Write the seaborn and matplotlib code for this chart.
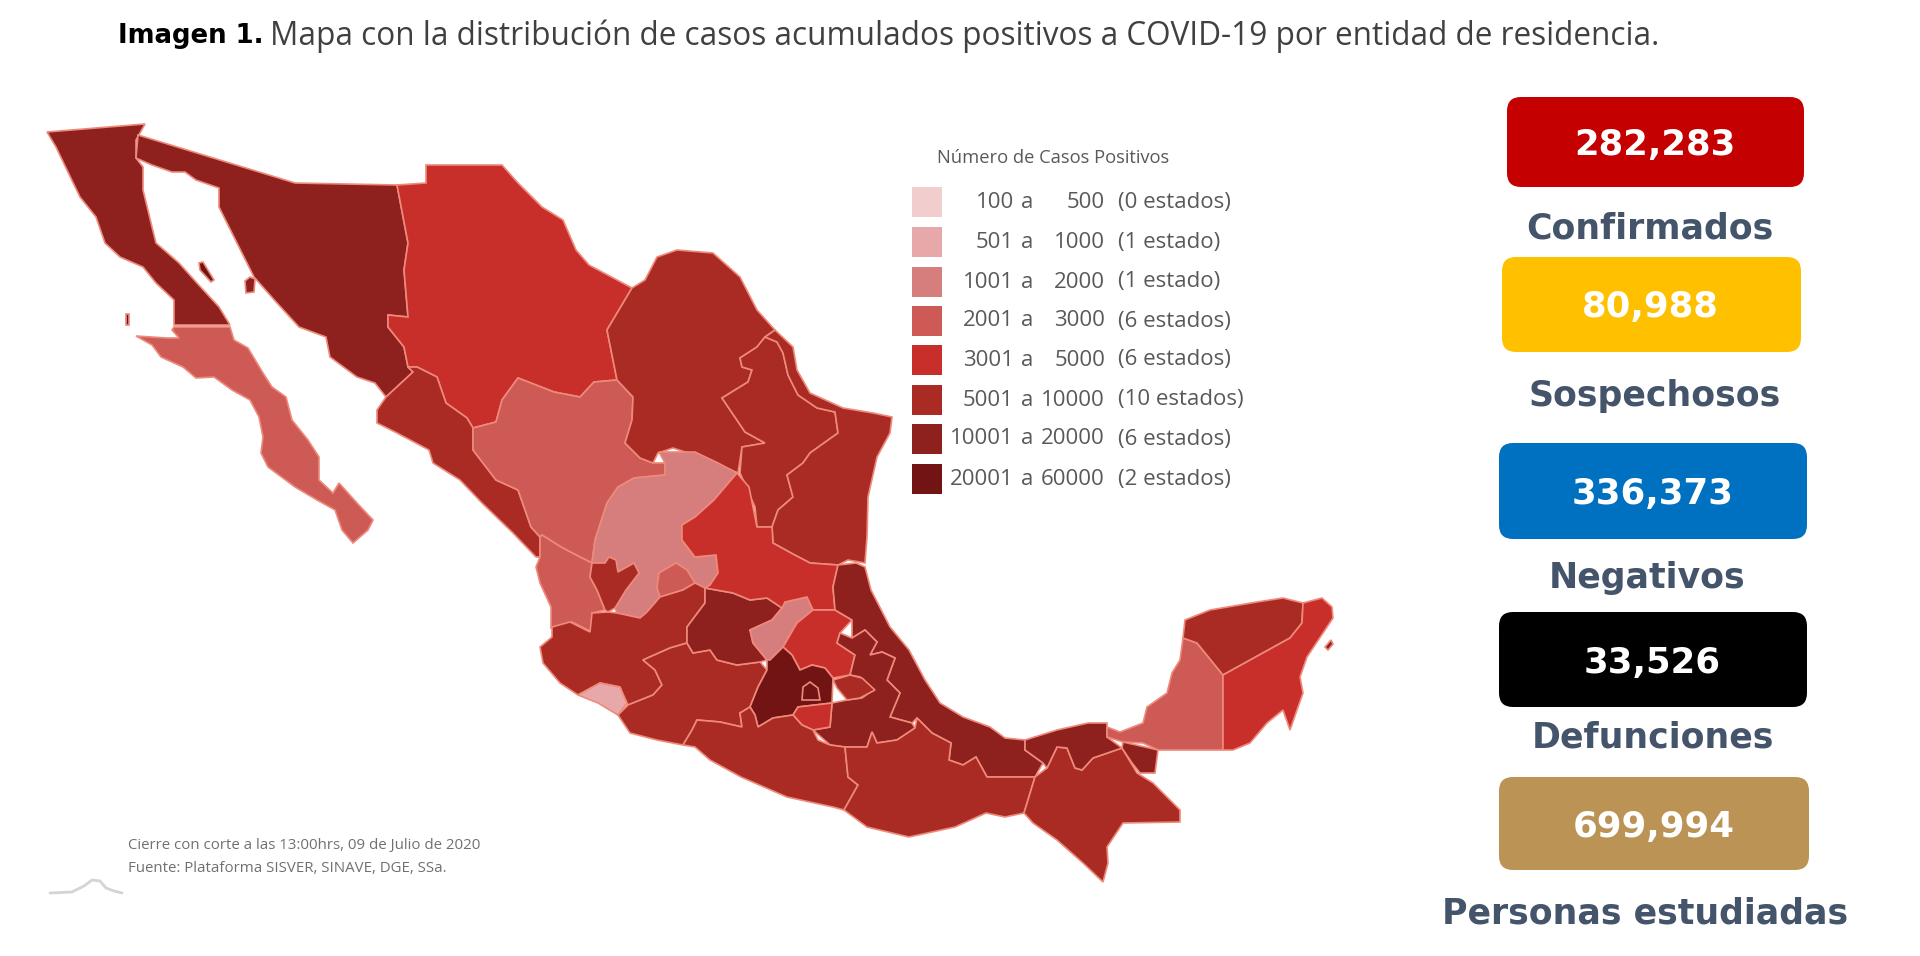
import matplotlib
matplotlib.use("Agg")
import matplotlib.pyplot as plt
from matplotlib.patches import FancyBboxPatch
import pandas as pd
import seaborn as sns

# legend classes, lightest to darkest
class_low = ["100", "501", "1001", "2001", "3001", "5001", "10001", "20001"]
class_high = ["500", "1000", "2000", "3000", "5000", "10000", "20000", "60000"]
class_count = ["(0 estados)", "(1 estado)", "(1 estado)", "(6 estados)",
               "(6 estados)", "(10 estados)", "(6 estados)", "(2 estados)"]
class_colors = ["#f2cdcd", "#e6a8a8", "#d67e7e", "#ce5a55",
                "#c92f2a", "#aa2b23", "#8e201d", "#721414"]

# headline numbers
card_values = ["282,283", "80,988", "336,373", "33,526", "699,994"]
card_labels = ["Confirmados", "Sospechosos", "Negativos", "Defunciones", "Personas estudiadas"]
card_colors = ["#c40000", "#ffc000", "#0070c0", "#000000", "#bb9355"]

# state outlines, in image units
baja_california = [(47,132),(145,124),(136,140),(136,158),(143,167),(143,190),(152,227),(156,243),(179,263),(196,282),(219,307),(230,325),(174,325),(174,300),(156,283),(143,267),(120,257),(105,243),(96,217),(80,197),(67,170),(56,147)]
baja_california_sur = [(174,327),(230,327),(234,340),(248,348),(263,373),(272,387),(286,397),(292,420),(308,440),(319,457),(319,480),(333,493),(339,483),(357,503),(373,520),(368,530),(353,543),(342,530),(335,510),(317,500),(295,487),(268,467),(261,453),(263,437),(259,417),(250,400),(232,390),(214,377),(196,378),(183,367),(161,357),(152,345),(136,336),(167,338),(179,338),(172,330)]
sonora = [(138,135),(295,183),(397,185),(408,243),(404,270),(408,317),(388,315),(388,327),(404,347),(408,367),(413,372),(386,397),(375,383),(357,377),(330,357),(326,337),(299,327),(277,303),(254,277),(237,243),(219,207),(219,188),(196,180),(185,172),(172,172),(152,165),(136,158)]
chihuahua = [(426,165),(502,165),(518,183),(542,207),(563,220),(576,250),(589,265),(632,288),(607,330),(617,380),(594,382),(580,397),(554,392),(518,378),(502,400),(496,422),(473,428),(467,418),(446,403),(437,377),(417,367),(408,367),(404,347),(388,327),(388,315),(408,317),(404,270),(408,243),(397,185),(426,183)]
sinaloa = [(413,372),(408,367),(417,367),(437,377),(446,403),(467,418),(473,428),(473,450),(496,480),(518,490),(531,527),(540,537),(540,557),(536,557),(513,533),(482,503),(460,480),(433,463),(429,450),(397,433),(377,423),(377,410),(386,397)]
durango = [(473,428),(496,422),(502,400),(518,378),(554,392),(580,397),(594,382),(617,380),(633,397),(632,420),(625,443),(640,458),(653,463),(665,463),(665,475),(634,478),(618,487),(607,503),(595,540),(592,563),(576,555),(561,547),(542,535),(540,537),(531,527),(518,490),(496,480),(473,450)]
coahuila = [(632,288),(645,280),(657,257),(677,250),(713,253),(740,277),(757,310),(775,330),(765,337),(757,347),(740,358),(742,367),(752,370),(748,382),(722,398),(745,432),(765,443),(742,447),(738,473),(700,457),(673,448),(658,453),(653,463),(640,458),(625,443),(632,420),(633,397),(617,380),(607,330)]
nuevo_leon = [(765,337),(777,342),(783,353),(788,375),(798,395),(817,408),(835,412),(838,433),(810,453),(803,463),(787,475),(793,497),(778,510),(772,527),(757,527),(755,507),(740,473),(742,447),(765,443),(745,432),(722,398),(748,382),(752,370),(742,367),(740,358),(757,347)]
tamaulipas = [(775,330),(793,347),(797,370),(810,393),(843,408),(873,413),(892,417),(890,433),(877,457),(868,497),(867,537),(865,563),(848,560),(838,565),(810,563),(791,553),(773,543),(772,527),(778,510),(793,497),(787,475),(803,463),(810,453),(838,433),(835,412),(817,408),(798,395),(788,375),(783,353),(777,342),(765,337)]
zacatecas = [(659,452),(695,452),(718,463),(737,473),(714,500),(695,517),(682,525),(682,540),(695,557),(716,555),(718,573),(710,585),(705,588),(695,583),(687,570),(676,563),(659,573),(657,588),(660,597),(647,612),(640,618),(617,613),(615,608),(626,590),(639,573),(634,563),(618,572),(616,560),(609,557),(605,563),(592,563),(595,540),(607,503),(618,487),(634,478),(665,475),(665,463)]
aguascalientes = [(676,563),(687,570),(695,583),(683,590),(660,597),(657,588),(659,573)]
nayarit = [(542,535),(561,547),(576,555),(592,563),(590,577),(597,590),(605,610),(592,613),(592,632),(572,622),(551,628),(551,607),(540,583),(536,567),(540,557),(540,537)]
jalisco = [(540,647),(552,637),(552,627),(570,622),(590,632),(592,613),(608,612),(617,613),(640,618),(647,612),(660,597),(683,590),(695,583),(705,588),(705,603),(687,627),(687,643),(670,648),(643,660),(655,670),(662,685),(653,695),(628,705),(623,697),(620,687),(600,683),(578,695),(560,683),(543,663)]
jalisco_norte = [(592,563),(605,563),(609,557),(616,560),(618,572),(634,563),(639,573),(626,590),(615,608),(608,612),(605,610),(597,590),(590,577)]
colima = [(578,695),(600,683),(620,687),(627,703),(618,715),(598,703)]
michoacan = [(618,715),(628,705),(653,695),(662,685),(655,670),(643,660),(670,648),(687,643),(693,653),(710,650),(717,660),(737,665),(760,662),(767,670),(758,687),(750,707),(740,713),(742,727),(720,722),(697,720),(692,730),(683,745),(657,740),(630,733)]
guanajuato = [(705,588),(733,593),(750,600),(767,598),(782,608),(772,620),(750,630),(753,643),(767,660),(760,662),(737,665),(717,660),(710,650),(693,653),(687,643),(687,627),(705,603)]
queretaro = [(782,608),(785,602),(807,597),(813,610),(797,623),(783,647),(770,660),(767,660),(753,643),(750,630),(772,620)]
san_luis_potosi = [(737,473),(749,487),(757,527),(772,527),(773,543),(791,553),(810,563),(838,565),(833,587),(835,610),(813,610),(807,597),(785,602),(782,608),(767,598),(750,600),(733,593),(705,588),(710,585),(718,573),(716,555),(695,557),(682,540),(682,525),(695,517),(714,500)]
hidalgo = [(797,623),(813,610),(835,610),(852,620),(840,633),(837,643),(855,655),(850,675),(833,678),(825,668),(812,665),(800,670),(792,655),(783,647)]
veracruz = [(838,565),(856,563),(865,567),(871,590),(890,627),(909,650),(925,680),(940,703),(963,717),(990,727),(1005,738),(1025,740),(1025,750),(1043,763),(1035,777),(987,777),(976,757),(963,765),(949,760),(951,743),(932,733),(917,718),(912,723),(890,717),(900,693),(887,680),(895,658),(882,652),(870,655),(877,642),(865,630),(852,638),(852,620),(835,610),(833,587)]
puebla = [(865,630),(877,642),(870,655),(882,652),(895,658),(887,680),(900,693),(890,717),(912,723),(915,728),(897,740),(877,743),(872,732),(867,747),(845,747),(830,745),(813,730),(830,727),(832,703),(847,700),(862,698),(873,690),(860,677),(850,675),(855,655),(837,643),(840,633),(852,638)]
tlaxcala = [(833,680),(850,675),(862,678),(875,690),(860,698),(847,700),(837,688)]
edomex = [(783,647),(792,655),(800,670),(812,665),(825,668),(833,678),(832,703),(798,707),(793,715),(773,718),(758,727),(755,715),(750,707),(758,687),(767,670),(767,660),(770,660)]
cdmx = [(802,700),(803,687),(810,682),(818,688),(820,700)]
morelos = [(793,715),(798,707),(832,703),(830,727),(813,730),(802,725)]
guerrero = [(683,745),(692,730),(697,720),(720,722),(742,727),(740,713),(750,707),(755,715),(758,727),(773,718),(793,715),(802,725),(813,730),(818,740),(830,745),(845,747),(848,777),(858,785),(844,810),(833,807),(787,797),(741,777),(710,760),(695,747)]
oaxaca = [(845,747),(867,747),(872,732),(877,743),(897,740),(915,728),(917,718),(932,733),(951,743),(949,760),(963,765),(976,757),(987,777),(1035,777),(1024,813),(1005,817),(986,813),(955,827),(909,837),(867,827),(844,810),(858,785),(848,777)]
chiapas = [(1035,777),(1047,768),(1057,747),(1067,748),(1075,768),(1082,770),(1093,758),(1122,748),(1137,773),(1153,783),(1180,810),(1180,822),(1123,823),(1107,847),(1108,863),(1103,882),(1083,863),(1057,840),(1033,823),(1024,813)]
tabasco = [(1025,740),(1057,730),(1088,723),(1107,723),(1107,737),(1122,748),(1093,758),(1082,770),(1075,768),(1067,748),(1057,747),(1047,768),(1043,763),(1025,750)]
tabasco_este = [(1123,742),(1158,750),(1155,773),(1140,773),(1132,763),(1122,748)]
campeche = [(1183,638),(1197,643),(1223,675),(1223,750),(1158,750),(1143,743),(1123,742),(1107,737),(1107,727),(1120,732),(1143,723),(1147,707),(1167,693),(1172,673),(1180,660)]
yucatan = [(1183,638),(1185,620),(1210,610),(1257,602),(1283,598),(1303,603),(1302,623),(1290,638),(1223,675),(1197,643)]
quintana_roo = [(1303,603),(1322,598),(1332,607),(1333,618),(1323,633),(1307,657),(1300,677),(1303,693),(1297,710),(1290,730),(1283,710),(1267,723),(1250,743),(1233,750),(1223,750),(1223,675),(1290,638),(1302,623)]
isla_tiburon = [(245,281),(250,277),(255,279),(254,292),(246,293)]
isla_angel = [(199,263),(203,262),(214,280),(211,282),(200,270)]
isla_guadalupe = [(126,314),(129,314),(129,325),(126,325)]
isla_cozumel = [(1325,647),(1331,640),(1333,644),(1328,650)]

# outline, legend class
states = [
    (baja_california, 6), (baja_california_sur, 3), (sonora, 6), (chihuahua, 4),
    (sinaloa, 5), (durango, 3), (coahuila, 5), (nuevo_leon, 5), (tamaulipas, 5),
    (zacatecas, 2), (aguascalientes, 3), (nayarit, 3), (jalisco, 5), (jalisco_norte, 5),
    (colima, 1), (michoacan, 5), (guanajuato, 6), (queretaro, 2), (san_luis_potosi, 4),
    (hidalgo, 4), (veracruz, 6), (puebla, 6), (tlaxcala, 5), (edomex, 7), (cdmx, 7),
    (morelos, 4), (guerrero, 5), (oaxaca, 5), (chiapas, 5), (tabasco, 6), (tabasco_este, 6),
    (campeche, 3), (yucatan, 5), (quintana_roo, 4), (isla_tiburon, 6), (isla_angel, 7),
    (isla_guadalupe, 7), (isla_cozumel, 6),
]

sns.set_theme(style="white")
plt.rcParams["font.family"] = ["Open Sans", "DejaVu Sans"]

fig = plt.figure(figsize=(19.2, 9.56), dpi=100)
ax = fig.add_axes([0, 0, 1, 1])
ax.set_xlim(0, 1920)
ax.set_ylim(956, 0)
ax.axis("off")

for outline, cls in states:
    xs, ys = zip(*outline)
    ax.fill(xs, ys, facecolor=class_colors[cls], edgecolor="#ee8a7c", linewidth=1.2, zorder=2)

# legend swatches
legend_y = [202, 242, 282, 321, 360, 400, 439, 479]
swatches = pd.DataFrame({"x": [927] * 8, "y": legend_y, "cls": class_low})
sns.scatterplot(data=swatches, x="x", y="y", hue="cls", palette=class_colors, marker="s",
                s=470, linewidth=0, legend=False, ax=ax, zorder=3)
ax.set_xlabel("")
ax.set_ylabel("")
ax.text(937, 158, "Número de Casos Positivos", fontsize=13.2, color="#595959", va="center")
for low, high, count, y in zip(class_low, class_high, class_count, legend_y):
    ax.text(1014, y, low, fontsize=16, color="#595959", va="center", ha="right")
    ax.text(1027, y, "a", fontsize=16, color="#595959", va="center", ha="center")
    ax.text(1105, y, high, fontsize=16, color="#595959", va="center", ha="right")
    ax.text(1118, y, count, fontsize=16, color="#595959", va="center", ha="left")

# number cards on the right
card_x = [(1507, 1804), (1502, 1801), (1499, 1807), (1499, 1807), (1499, 1809)]
card_y = [(97, 187), (257, 352), (443, 539), (612, 707), (777, 870)]
value_x = [1655, 1650, 1653, 1652, 1654]
label_x = [1650, 1655, 1647, 1653, 1645]
label_y = [228, 396, 578, 738, 913]
for i, value in enumerate(card_values):
    (x0, x1), (y0, y1) = card_x[i], card_y[i]
    ax.add_patch(FancyBboxPatch((x0 + 14, y0 + 14), x1 - x0 - 28, y1 - y0 - 28,
                                boxstyle="round,pad=14,rounding_size=14",
                                facecolor=card_colors[i], edgecolor="none", zorder=2))
    ax.text(value_x[i], (y0 + y1) / 2 + 3, value, fontsize=25.6, fontweight="bold",
            family="DejaVu Sans", color="white", ha="center", va="center", zorder=3)
    ax.text(label_x[i], label_y[i], card_labels[i], fontsize=25, fontweight="bold",
            family="DejaVu Sans", color="#44546a", ha="center", va="center")

# heading
ax.text(118, 36, "Imagen 1.", fontsize=18.7, fontweight="bold", family="DejaVu Sans",
        color="black", va="center")
ax.text(270, 36, "Mapa con la distribución de casos acumulados positivos a COVID-19 por entidad de residencia.",
        fontsize=22.7, color="#404040", va="center")

# source note and faded logo
ax.text(128, 845, "Cierre con corte a las 13:00hrs, 09 de Julio de 2020", fontsize=10.8, color="#707070", va="center")
ax.text(128, 868, "Fuente: Plataforma SISVER, SINAVE, DGE, SSa.", fontsize=10.8, color="#707070", va="center")
logo_x = [50, 72, 84, 92, 100, 106, 114, 122]
logo_y = [893, 892, 886, 880, 881, 888, 891, 893]
ax.plot(logo_x, logo_y, color="#d4d4d4", linewidth=2)

fig.savefig("out.png", dpi=100, facecolor="white")
plt.close(fig)
